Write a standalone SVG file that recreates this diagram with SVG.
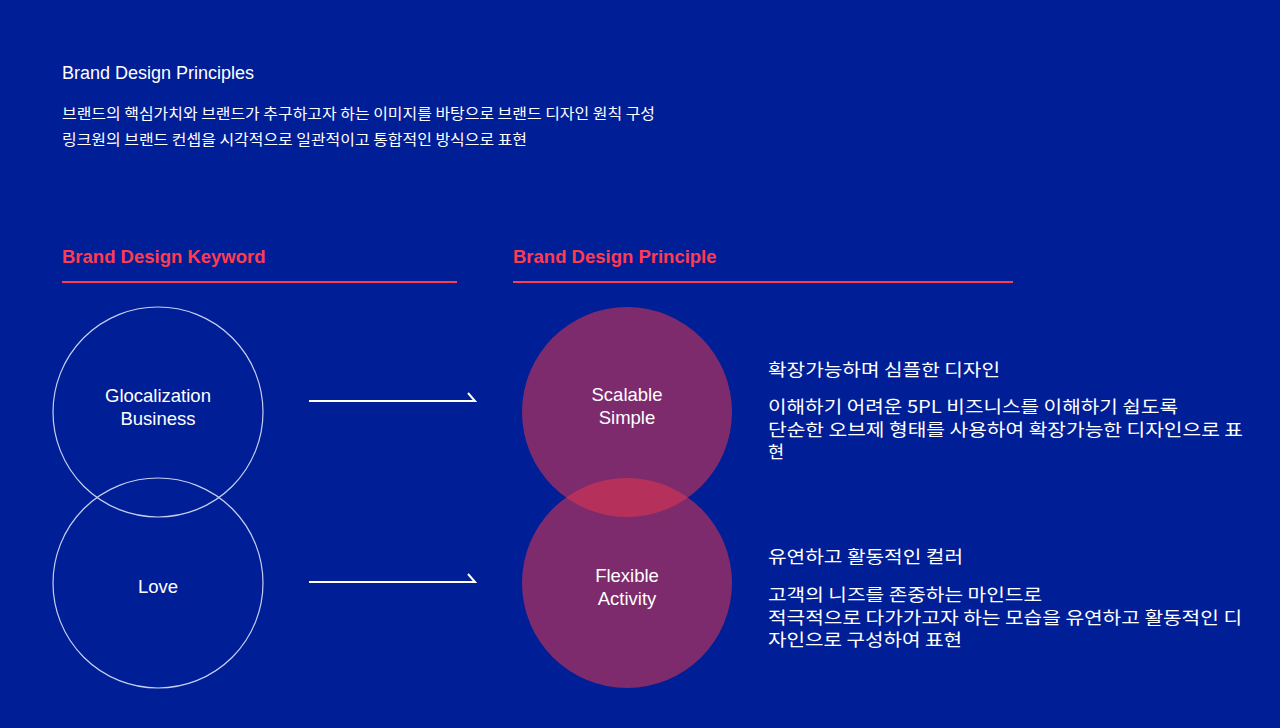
<svg xmlns="http://www.w3.org/2000/svg" width="1280" height="728" viewBox="0 0 1280 728">
<style>
.t{font-family:"Liberation Sans","Noto Sans CJK KR",sans-serif;fill:#ffffff}
.h{font-family:"Liberation Sans","Noto Sans CJK KR",sans-serif;fill:#ff3b4f;font-weight:bold;font-size:18.5px}
.c{font-family:"Liberation Sans","Noto Sans CJK KR",sans-serif;fill:#ffffff;font-size:18.5px;text-anchor:middle}
.k{font-family:"Noto Sans CJK KR","Liberation Sans",sans-serif;fill:#ffffff}
.ring{fill:none;stroke:#c8d0f0;stroke-width:1.2}
.blob{fill:#e3374d;fill-opacity:0.55}
.rule{stroke:#ff3b4f;stroke-width:2}
.arr{stroke:#ffffff;stroke-width:2;fill:none}
</style>
<rect width="1280" height="728" fill="#001e96"/>
<g id="header">
<text class="t" x="62" y="79" font-size="18">Brand Design Principles</text>
<text class="k" x="62" y="119" font-size="15" textLength="593" lengthAdjust="spacingAndGlyphs">브랜드의 핵심가치와 브랜드가 추구하고자 하는 이미지를 바탕으로 브랜드 디자인 원칙 구성</text>
<text class="k" x="62" y="145" font-size="15" textLength="465" lengthAdjust="spacingAndGlyphs">링크원의 브랜드 컨셉을 시각적으로 일관적이고 통합적인 방식으로 표현</text>
</g>
<g id="keyword-heading">
<text class="h" x="62" y="263">Brand Design Keyword</text>
<line class="rule" x1="62" y1="282" x2="457" y2="282"/>
</g>
<g id="principle-heading">
<text class="h" x="513" y="263">Brand Design Principle</text>
<line class="rule" x1="513" y1="282" x2="1013" y2="282"/>
</g>
<g id="kw-glocalization">
<circle class="ring" cx="158" cy="412" r="105"/>
<text class="c" x="158" y="402">Glocalization</text>
<text class="c" x="158" y="425">Business</text>
</g>
<g id="kw-love">
<circle class="ring" cx="158" cy="583" r="105"/>
<text class="c" x="158" y="593">Love</text>
</g>
<g id="pr-scalable">
<circle class="blob" cx="627" cy="412" r="105"/>
<text class="c" x="627" y="401">Scalable</text>
<text class="c" x="627" y="424">Simple</text>
</g>
<g id="pr-flexible">
<circle class="blob" cx="627" cy="583" r="105"/>
<text class="c" x="627" y="582">Flexible</text>
<text class="c" x="627" y="605">Activity</text>
</g>
<g id="connectors">
<path class="arr" d="M309 401 H475 L468 393"/>
<path class="arr" d="M309 582 H475 L468 574"/>
</g>
<g id="desc-scalable">
<text class="k" x="768" y="376" font-size="17.5" textLength="232" lengthAdjust="spacingAndGlyphs">확장가능하며 심플한 디자인</text>
<text class="k" x="768" y="413" font-size="17.5" textLength="410" lengthAdjust="spacingAndGlyphs">이해하기 어려운 5PL 비즈니스를 이해하기 쉽도록</text>
<text class="k" x="768" y="436" font-size="17.5" textLength="475" lengthAdjust="spacingAndGlyphs">단순한 오브제 형태를 사용하여 확장가능한 디자인으로 표</text>
<text class="k" x="768" y="458" font-size="17.5">현</text>
</g>
<g id="desc-flexible">
<text class="k" x="768" y="563" font-size="17.5" textLength="195" lengthAdjust="spacingAndGlyphs">유연하고 활동적인 컬러</text>
<text class="k" x="768" y="601" font-size="17.5" textLength="274" lengthAdjust="spacingAndGlyphs">고객의 니즈를 존중하는 마인드로</text>
<text class="k" x="768" y="624" font-size="17.5" textLength="474" lengthAdjust="spacingAndGlyphs">적극적으로 다가가고자 하는 모습을 유연하고 활동적인 디</text>
<text class="k" x="768" y="646" font-size="17.5" textLength="194" lengthAdjust="spacingAndGlyphs">자인으로 구성하여 표현</text>
</g>
</svg>
